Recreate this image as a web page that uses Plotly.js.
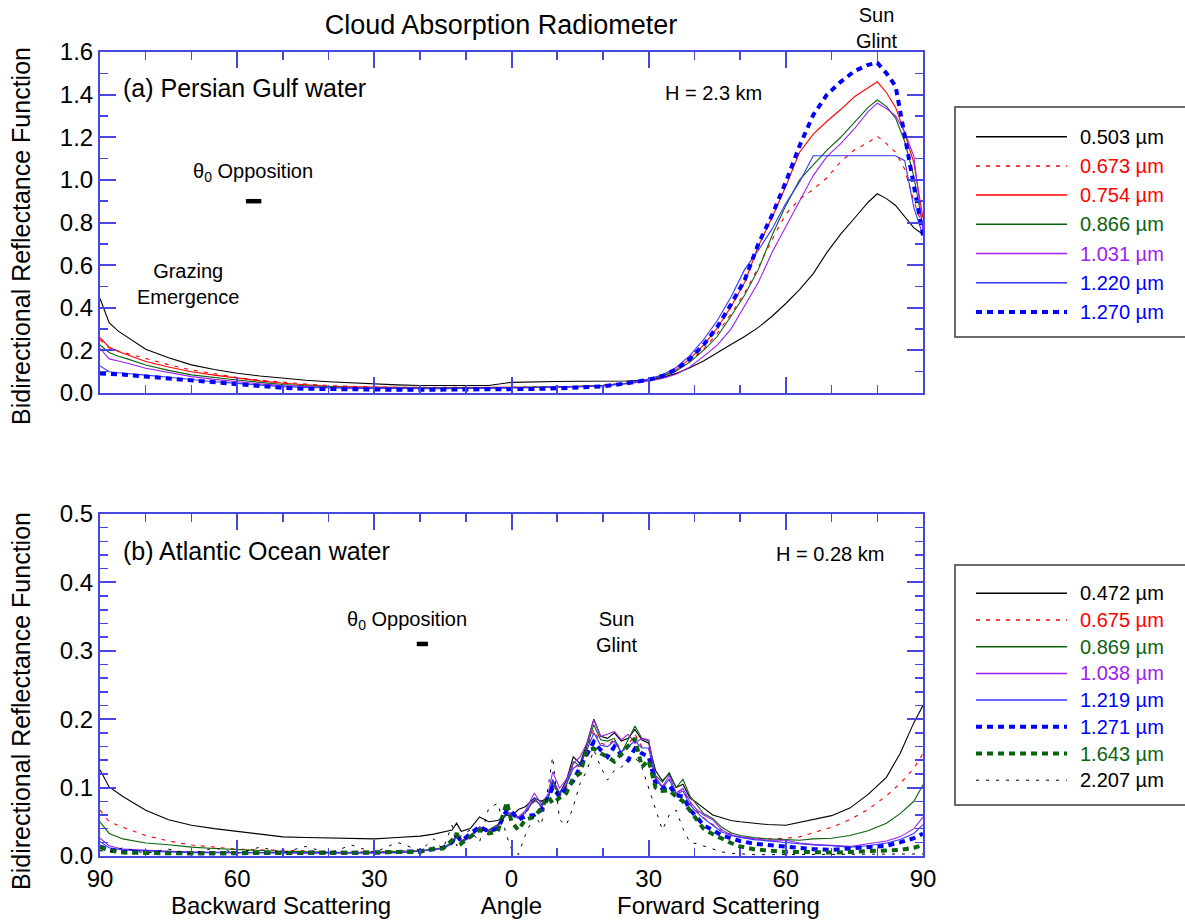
<!DOCTYPE html>
<html>
<head>
<meta charset="utf-8">
<script src="https://cdn.plot.ly/plotly-3.0.1.min.js"></script>
<style>html,body{margin:0;padding:0;background:#fff}#chart{width:1185px;height:922px}</style>
</head>
<body>
<div id="chart"></div>
<script>
// ---------- DATA: panel (a) Persian Gulf water ----------
const T_ANG = [-90,-88,-86,-84,-80,-75,-70,-65,-60,-55,-50,-45,-40,-35,-30,-25,-20,-15,-10,-5,0,5,10,15,20,25,30,33,36,39,42,45,48,51,54,57,60,63,66,69,72,75,78,80,82,84,86,88,90];
const t_503  = [.444,.330,.290,.262,.205,.165,.132,.110,.093,.080,.069,.060,.053,.047,.042,.038,.035,.034,.034,.035,.050,.053,.054,.055,.055,.056,.060,.072,.092,.118,.150,.190,.228,.265,.308,.360,.420,.485,.560,.660,.745,.820,.895,.935,.912,.880,.830,.775,.745];
const t_673  = [.250,.212,.197,.185,.160,.133,.108,.090,.073,.060,.050,.042,.035,.031,.028,.027,.026,.026,.026,.026,.027,.028,.029,.032,.036,.046,.062,.078,.105,.148,.205,.280,.370,.470,.590,.720,.840,.910,.955,1.010,1.085,1.140,1.175,1.205,1.170,1.130,1.050,.900,.780];
const t_754  = [.260,.215,.195,.180,.148,.122,.100,.084,.069,.057,.046,.039,.032,.029,.027,.026,.025,.025,.025,.025,.026,.027,.028,.031,.036,.046,.063,.080,.110,.160,.225,.305,.405,.520,.690,.825,.970,1.130,1.215,1.275,1.330,1.390,1.430,1.460,1.410,1.340,1.220,1.080,.820];
const t_866  = [.225,.190,.172,.160,.131,.106,.085,.072,.061,.050,.040,.034,.029,.026,.025,.024,.024,.024,.024,.024,.025,.026,.028,.031,.035,.045,.062,.078,.103,.145,.200,.265,.360,.460,.580,.740,.880,1.000,1.070,1.140,1.200,1.270,1.340,1.375,1.345,1.290,1.180,1.015,.780];
const t_1031 = [.210,.160,.150,.140,.116,.095,.077,.064,.053,.043,.035,.030,.026,.024,.023,.022,.022,.022,.022,.022,.023,.024,.026,.029,.033,.042,.057,.068,.088,.122,.172,.225,.300,.410,.520,.660,.780,.900,1.020,1.110,1.170,1.240,1.320,1.360,1.335,1.300,1.225,1.110,.760];
const t_1220 = [.127,.100,.095,.092,.084,.074,.062,.053,.045,.037,.030,.026,.023,.022,.021,.020,.020,.020,.021,.022,.023,.024,.026,.029,.034,.046,.065,.085,.120,.175,.250,.340,.450,.580,.670,.770,.890,.990,1.113,1.113,1.113,1.113,1.113,1.113,1.113,1.113,1.090,.870,.740];
const t_1270 = [.092,.090,.088,.085,.077,.068,.056,.047,.039,.031,.024,.020,.018,.016,.015,.015,.015,.015,.015,.016,.017,.019,.022,.026,.031,.045,.062,.080,.110,.160,.225,.310,.415,.530,.700,.835,.990,1.160,1.305,1.400,1.460,1.510,1.540,1.550,1.500,1.440,1.215,.980,.740];

// ---------- DATA: panel (b) Atlantic Ocean water ----------
const B_ANG = [-90,-88,-85,-80,-75,-70,-65,-60,-55,-50,-45,-40,-35,-30,-25,-20,-17,-15,-13,-12,-11,-9,-7,-5,-3,-1,0,1.5,3,5,6.5,8,9,10.5,12,13.5,15,16.5,18,19.5,21,22.5,24,25.5,27,28.5,30,31.5,33,34.5,36,37.5,39,40.5,42,44,46,48,50,53,56,60,63,66,70,74,78,82,85,88,90];
const b_472  = [.126,.101,.087,.067,.053,.045,.040,.036,.031,.028,.027,.026,.025,.025,.027,.029,.032,.035,.038,.048,.036,.040,.057,.050,.052,.060,.058,.068,.072,.085,.080,.085,.110,.092,.110,.145,.135,.165,.200,.175,.172,.180,.168,.172,.185,.170,.165,.125,.110,.120,.100,.105,.085,.078,.070,.060,.056,.052,.050,.048,.046,.045,.049,.053,.059,.070,.090,.115,.150,.195,.220];
const b_675  = [.067,.050,.042,.030,.022,.016,.013,.010,.009,.008,.007,.006,.006,.006,.007,.008,.010,.012,.020,.030,.022,.030,.042,.037,.045,.062,.060,.055,.062,.080,.072,.082,.105,.088,.100,.135,.130,.158,.185,.165,.162,.170,.155,.162,.178,.160,.158,.115,.102,.112,.092,.098,.078,.066,.056,.046,.038,.032,.028,.026,.025,.026,.028,.034,.042,.053,.068,.088,.106,.128,.150];
const b_869  = [.050,.033,.025,.019,.0165,.013,.011,.009,.008,.007,.006,.006,.005,.005,.006,.008,.010,.012,.020,.032,.022,.030,.042,.038,.046,.063,.060,.056,.063,.082,.074,.084,.108,.090,.103,.138,.132,.160,.192,.170,.168,.172,.150,.170,.190,.172,.168,.118,.108,.122,.100,.112,.088,.075,.062,.055,.042,.034,.030,.027,.025,.024,.023,.025,.026,.030,.037,.048,.062,.080,.104];
const b_1038 = [.026,.015,.010,.008,.007,.006,.005,.005,.005,.004,.004,.004,.004,.004,.005,.007,.009,.011,.018,.030,.020,.028,.043,.036,.045,.065,.062,.057,.066,.092,.076,.090,.123,.099,.112,.135,.145,.165,.199,.175,.178,.182,.170,.178,.165,.172,.170,.116,.101,.118,.092,.099,.080,.068,.060,.053,.038,.031,.028,.025,.023,.023,.019,.017,.016,.014,.018,.022,.028,.040,.057];
const b_1219 = [.021,.012,.009,.007,.006,.005,.005,.004,.004,.004,.004,.004,.004,.004,.005,.007,.009,.011,.018,.028,.020,.027,.040,.035,.043,.062,.060,.055,.063,.085,.072,.085,.112,.092,.105,.128,.135,.155,.180,.162,.160,.168,.152,.160,.168,.158,.158,.112,.100,.112,.090,.095,.075,.064,.055,.045,.035,.030,.027,.024,.022,.020,.018,.016,.015,.013,.015,.019,.024,.033,.046];
const b_1271 = [.014,.009,.006,.005,.004,.004,.004,.004,.004,.004,.004,.004,.004,.005,.006,.007,.010,.012,.020,.030,.022,.033,.043,.036,.040,.068,.065,.053,.058,.060,.067,.085,.100,.087,.098,.110,.130,.150,.167,.155,.145,.160,.148,.140,.157,.150,.145,.106,.098,.103,.089,.087,.068,.057,.045,.038,.030,.026,.022,.018,.016,.014,.012,.010,.009,.011,.013,.015,.020,.026,.033];
const b_1643 = [.013,.008,.005,.004,.004,.004,.004,.004,.004,.004,.004,.004,.004,.005,.006,.006,.011,.011,.023,.033,.018,.028,.038,.033,.036,.079,.050,.038,.053,.057,.070,.087,.077,.085,.092,.114,.121,.155,.157,.150,.145,.138,.150,.160,.172,.130,.140,.100,.095,.096,.087,.080,.067,.053,.040,.032,.025,.019,.014,.010,.008,.006,.006,.005,.005,.006,.007,.008,.009,.012,.016];
const b_2207 = [.008,.006,.012,.004,.010,.003,.012,.004,.013,.005,.014,.004,.016,.005,.020,.008,.025,.010,.045,.015,.030,.038,.020,.070,.077,.028,.010,.002,.030,.060,.045,.100,.145,.053,.045,.072,.106,.125,.155,.130,.111,.125,.130,.138,.145,.130,.100,.070,.038,.060,.067,.040,.020,.018,.015,.010,.006,.004,.003,.002,.002,.002,.002,.002,.002,.002,.002,.002,.002,.003,.003];

// opposition markers (angle, BRF)
const OPP_A_X = [-56.4], OPP_A_Y = [0.90];
const OPP_B_X = [-19.5], OPP_B_Y = [0.31];

// tick labels
const X_TICK_VALS = [-90,-60,-30,0,30,60,90];
const X_TICK_TEXT = ['90','60','30','0','30','60','90'];

// ---------- styles ----------
const FONT = 'Liberation Sans, Arial, sans-serif';
const AX = 'rgb(70,70,225)';
const RED = '#ff0000', GREEN = '#0a640f', PURPLE = '#a020f0', BLUE = '#0000ff', BLUE_T = '#3535ff', BLACK = '#000000';

const seriesA = [
  {name:'0.503 µm', y:t_503,  color:BLACK,  tcolor:BLACK,  width:1.1, dash:'solid'},
  {name:'0.673 µm', y:t_673,  color:RED,    tcolor:RED,    width:1.1, dash:'4px,6px'},
  {name:'0.754 µm', y:t_754,  color:RED,    tcolor:RED,    width:1.1, dash:'solid'},
  {name:'0.866 µm', y:t_866,  color:GREEN,  tcolor:GREEN,  width:1.1, dash:'solid'},
  {name:'1.031 µm', y:t_1031, color:PURPLE, tcolor:PURPLE, width:1.1, dash:'solid'},
  {name:'1.220 µm', y:t_1220, color:BLUE_T, tcolor:BLUE,   width:1.1, dash:'solid'},
  {name:'1.270 µm', y:t_1270, color:BLUE,   tcolor:BLUE,   width:4,   dash:'6px,5px'}
];
const seriesB = [
  {name:'0.472 µm', y:b_472,  color:BLACK,  tcolor:BLACK,  width:1.1, dash:'solid'},
  {name:'0.675 µm', y:b_675,  color:RED,    tcolor:RED,    width:1.1, dash:'4px,6px'},
  {name:'0.869 µm', y:b_869,  color:GREEN,  tcolor:GREEN,  width:1.1, dash:'solid'},
  {name:'1.038 µm', y:b_1038, color:PURPLE, tcolor:PURPLE, width:1.1, dash:'solid'},
  {name:'1.219 µm', y:b_1219, color:BLUE_T, tcolor:BLUE,   width:1.1, dash:'solid'},
  {name:'1.271 µm', y:b_1271, color:BLUE,   tcolor:BLUE,   width:4,   dash:'6px,5px'},
  {name:'1.643 µm', y:b_1643, color:GREEN,  tcolor:GREEN,  width:4,   dash:'6px,5px'},
  {name:'2.207 µm', y:b_2207, color:BLACK,  tcolor:BLACK,  width:1,   dash:'3px,7px'}
];

const traces = [];
seriesA.forEach(s => traces.push({type:'scatter', mode:'lines', x:T_ANG, y:s.y, name:s.name,
  xaxis:'x2', yaxis:'y2', showlegend:false, line:{color:s.color, width:s.width, dash:s.dash}}));
seriesB.forEach(s => traces.push({type:'scatter', mode:'lines', x:B_ANG, y:s.y, name:s.name,
  xaxis:'x', yaxis:'y', showlegend:false, line:{color:s.color, width:s.width, dash:s.dash}}));
traces.push({type:'scatter', mode:'markers', x:OPP_A_X, y:OPP_A_Y, xaxis:'x2', yaxis:'y2', showlegend:false,
  marker:{symbol:'line-ew', size:11, line:{color:BLACK, width:4.5}}});
traces.push({type:'scatter', mode:'markers', x:OPP_B_X, y:OPP_B_Y, xaxis:'x', yaxis:'y', showlegend:false,
  marker:{symbol:'line-ew', size:8, line:{color:BLACK, width:4.5}}});

// ---------- layout geometry ----------
const W = 1185, H = 922, ML = 100, MR = 262, MT = 52, MB = 66;
const PW = W - ML - MR, PH = H - MT - MB;
const px = v => (v - ML) / PW;            // pixel x -> paper x
const py = v => (H - MB - v) / PH;        // pixel y -> paper y

function xaxisBase(extra){
  return Object.assign({
    range:[-90,90], tickmode:'array', tickvals:X_TICK_VALS, ticktext:X_TICK_TEXT,
    ticks:'inside', ticklen:16, tickwidth:2, tickcolor:AX,
    showline:true, linecolor:AX, linewidth:2, mirror:'allticks',
    showgrid:false, zeroline:false, fixedrange:true,
    tickfont:{family:FONT, size:24, color:'#000'},
    minor:{ticks:'inside', ticklen:8, tickwidth:1.5, tickcolor:AX, dtick:10, tick0:-90, showgrid:false}
  }, extra);
}
function yaxisBase(extra){
  return Object.assign({
    ticks:'inside', ticklen:16, tickwidth:2, tickcolor:AX, tick0:0, tickformat:'.1f',
    showline:true, linecolor:AX, linewidth:2, mirror:'allticks',
    showgrid:false, zeroline:false, fixedrange:true,
    tickfont:{family:FONT, size:24, color:'#000'}
  }, extra);
}

const annotations = [];
function ann(text, x, y, size, xanchor, extra){
  annotations.push(Object.assign({text:text, xref:'paper', yref:'paper', x:px(x), y:py(y),
    xanchor:xanchor||'center', yanchor:'middle', showarrow:false,
    font:{family:FONT, size:size, color:'#000'}}, extra||{}));
}
ann('(a) Persian Gulf water', 121, 88, 25, 'left');
ann('H = 2.3 km', 713, 93, 20);
ann('Sun<br>Glint', 877, 28, 20);
ann('θ<sub>0</sub> Opposition', 253, 172, 20);
ann('Grazing<br>Emergence', 188, 284, 20);
ann('(b) Atlantic Ocean water', 121, 551, 25, 'left');
ann('H = 0.28 km', 830, 554, 20);
ann('θ<sub>0</sub> Opposition', 407, 620, 20);
ann('Sun<br>Glint', 617, 632, 20);
ann('Backward Scattering', 281, 905, 24);
ann('Forward Scattering', 718, 905, 24);
ann('Bidirectional Reflectance Function', 21, 236, 25, 'center', {textangle:-90});
ann('Bidirectional Reflectance Function', 21, 701, 25, 'center', {textangle:-90});

// ---------- legends (drawn from the series definitions) ----------
const shapes = [];
function legend(series, top, bottom, y0, step){
  shapes.push({type:'rect', xref:'paper', yref:'paper', x0:px(955), x1:px(1192), y0:py(bottom), y1:py(top),
    line:{color:'#6a6a6a', width:2}, fillcolor:'rgba(0,0,0,0)'});
  series.forEach((s,i) => {
    const yy = y0 + i*step;
    shapes.push({type:'line', xref:'paper', yref:'paper', x0:px(976), x1:px(1067), y0:py(yy), y1:py(yy),
      line:{color:s.color, width:s.width === 1.1 ? 1.5 : s.width, dash:s.dash}});
    ann(s.name, 1078, yy, 20, 'left', {font:{family:FONT, size:20, color:s.tcolor}});
  });
}
legend(seriesA, 107, 337, 136.7, 29.2);
legend(seriesB, 565, 805, 593.3, 26.7);

const layout = {
  width:W, height:H, margin:{l:ML, r:MR, t:MT, b:MB}, autosize:false,
  paper_bgcolor:'#fff', plot_bgcolor:'#fff', showlegend:false,
  font:{family:FONT, color:'#000'},
  title:{text:'Cloud Absorption Radiometer', font:{family:FONT, size:27, color:'#000'},
         xref:'container', yref:'container', x:501/W, xanchor:'center', y:1-25/H, yanchor:'middle'},
  xaxis: xaxisBase({anchor:'y', domain:[0,1],
    title:{text:'Angle', font:{family:FONT, size:24, color:'#000'}, standoff:4}}),
  xaxis2: xaxisBase({anchor:'y2', domain:[0,1], showticklabels:false}),
  yaxis: yaxisBase({anchor:'x', domain:[0, py(514)], range:[0,0.5], dtick:0.1,
    minor:{ticks:'inside', ticklen:8, tickwidth:1.5, tickcolor:AX, dtick:0.02, tick0:0, showgrid:false}}),
  yaxis2: yaxisBase({anchor:'x2', domain:[py(393), 1], range:[0,1.6], dtick:0.2,
    minor:{ticks:'inside', ticklen:8, tickwidth:1.5, tickcolor:AX, dtick:0.1, tick0:0, showgrid:false}}),
  annotations:annotations, shapes:shapes
};

Plotly.newPlot('chart', traces, layout, {displayModeBar:false, staticPlot:true});
</script>
</body>
</html>
